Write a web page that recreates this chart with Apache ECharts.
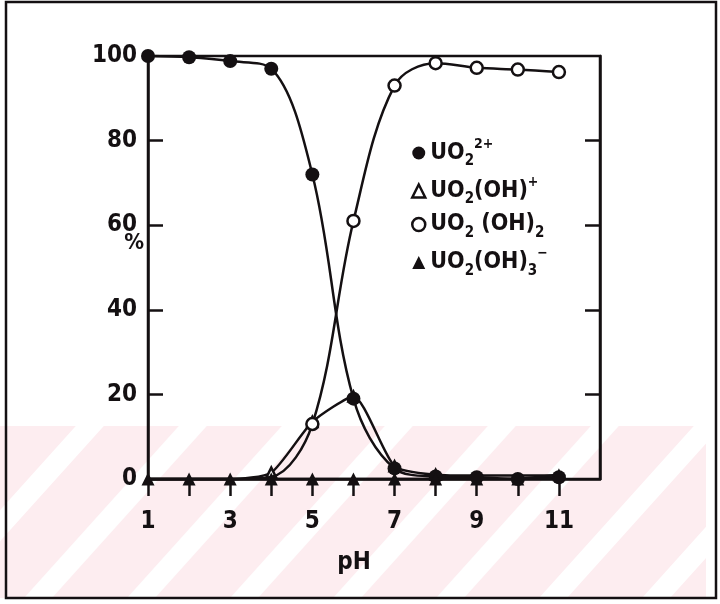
<!DOCTYPE html>
<html>
<head>
<meta charset="utf-8">
<script src="https://cdn.jsdelivr.net/npm/echarts@6/dist/echarts.min.js"></script>
<style>
  html, body { margin: 0; padding: 0; background: #fff; }
  #chart { width: 720px; height: 604px; }
</style>
</head>
<body>
<div id="chart"></div>
<script>
// Uranyl species distribution (%) versus pH
const pH = [1, 2, 3, 4, 5, 6, 7, 8, 9, 10, 11];
const uranyl     = [100, 99.7, 98.8, 97, 72, 19, 2.5, 0.6, 0.4, 0, 0.4];   // UO2 2+
const hydroxo    = [0, 0, 0, 1.5, 13.5, 19.5, 3, 1, 0.8, 0.8, 0.8];      // UO2(OH)+
const dihydroxo  = [0, 0, 0, 0.5, 13, 61, 93, 98.3, 97.2, 96.8, 96.2];   // UO2(OH)2
const trihydroxo = [0, 0, 0, 0, 0, 0, 0, 0, 0, 0, 1];                   // UO2(OH)3 -
const xLabelValues = [1, 3, 5, 7, 9, 11];
const yLabelValues = [0, 20, 40, 60, 80, 100];

const INK = '#141012';
const FONT = "'DejaVu Sans Condensed', 'DejaVu Sans', sans-serif";

const names = ['UO₂²⁺', 'UO₂(OH)⁺', 'UO₂(OH)₂', 'UO₂(OH)₃⁻'];
const legendRich = {
  [names[0]]: '{m|UO}{s|2}{p|2+}',
  [names[1]]: '{m|UO}{s|2}{m|(OH)}{p|+}',
  [names[2]]: '{m|UO}{s|2}{m| (OH)}{s|2}',
  [names[3]]: '{m|UO}{s|2}{m|(OH)}{s|3}{p|−}'
};

// Points lying on the baseline are marked only by the trihydroxo triangles
const pairs = (arr, hideBaseline) => pH.map((x, i) => {
  const item = { value: [x, arr[i]] };
  if (hideBaseline && arr[i] < 1) item.symbol = 'none';
  return item;
});

// Pink diagonal band behind the lower part of the figure
const bandTop = 426, bandBottom = 598;
const shift = 0.9 * (bandBottom - bandTop);
const stripes = [];
for (let k = -2; k <= 6; k++) {
  const x0 = 127 + k * 103;
  stripes.push({
    type: 'polygon', z: -9, silent: true,
    shape: { points: [[x0, bandBottom], [x0 + 28, bandBottom], [x0 + 28 + shift, bandTop], [x0 + shift, bandTop]] },
    style: { fill: '#ffffff' }
  });
}

const chart = echarts.init(document.getElementById('chart'));
chart.setOption({
  backgroundColor: '#ffffff',
  animation: false,
  graphic: [
    { type: 'rect', z: -10, silent: true, shape: { x: 0, y: bandTop, width: 706, height: bandBottom - bandTop }, style: { fill: '#fdedf0' } },
    ...stripes,
    { type: 'rect', z: 5, silent: true, shape: { x: 6, y: 2, width: 710, height: 596 }, style: { fill: 'none', stroke: INK, lineWidth: 2.5 } }
  ],
  grid: { left: 148, right: 120, top: 56, bottom: 125, show: true, borderColor: INK, borderWidth: 2.5, backgroundColor: 'transparent' },
  legend: {
    orient: 'vertical', left: 406, top: 132, itemGap: 6, itemWidth: 13, itemHeight: 13,
    selectedMode: false,
    data: [
      { name: names[0], icon: 'circle', itemStyle: { color: INK, borderWidth: 0 } },
      { name: names[1], icon: 'triangle', itemStyle: { color: '#fff', borderColor: INK, borderWidth: 2.5 } },
      { name: names[2], icon: 'circle', itemStyle: { color: '#fff', borderColor: INK, borderWidth: 2.5 } },
      { name: names[3], icon: 'triangle', itemStyle: { color: INK, borderWidth: 0 } }
    ],
    formatter: n => legendRich[n],
    textStyle: {
      rich: {
        m: { fontFamily: FONT, fontWeight: 'bold', fontSize: 23, color: INK, lineHeight: 32, verticalAlign: 'middle' },
        s: { fontFamily: FONT, fontWeight: 'bold', fontSize: 15, color: INK, lineHeight: 13, verticalAlign: 'bottom' },
        p: { fontFamily: FONT, fontWeight: 'bold', fontSize: 14, color: INK, lineHeight: 14, verticalAlign: 'top' }
      }
    }
  },
  xAxis: {
    type: 'value', min: 1, max: 12, interval: 1,
    name: 'pH', nameLocation: 'middle', nameGap: 72,
    nameTextStyle: { fontFamily: FONT, fontWeight: 'bold', fontSize: 24, color: INK, padding: [0, 40, 0, 0] },
    axisLine: { lineStyle: { color: INK, width: 2.5 } },
    axisTick: { show: true, inside: false, length: 17, customValues: pH, lineStyle: { color: INK, width: 2.5 } },
    axisLabel: { customValues: xLabelValues, margin: 31, fontFamily: FONT, fontWeight: 'bold', fontSize: 24, color: INK },
    splitLine: { show: false }
  },
  yAxis: [
    {
      type: 'value', min: 0, max: 100, interval: 20, position: 'left',
      name: '%', nameLocation: 'middle', nameRotate: 0, nameGap: 4, nameMoveOverlap: false,
      nameTextStyle: { fontFamily: FONT, fontWeight: 'bold', fontSize: 22, color: INK, verticalAlign: 'bottom', lineHeight: 48 },
      axisLine: { show: true, lineStyle: { color: INK, width: 2.5 } },
      axisTick: { show: true, inside: true, length: 15, customValues: [20, 40, 60, 80], lineStyle: { color: INK, width: 2.5 } },
      axisLabel: { customValues: yLabelValues, margin: 11, fontFamily: FONT, fontWeight: 'bold', fontSize: 24, color: INK },
      splitLine: { show: false }
    },
    {
      type: 'value', min: 0, max: 100, interval: 20, position: 'right',
      axisLine: { show: true, lineStyle: { color: INK, width: 2.5 } },
      axisTick: { show: true, inside: true, length: 15, customValues: [20, 40, 60, 80], lineStyle: { color: INK, width: 2.5 } },
      axisLabel: { show: false },
      splitLine: { show: false }
    }
  ],
  series: [
    {
      name: names[1], type: 'line', data: pairs(hydroxo, true), clip: false, z: 3, smooth: 0.2,
      symbol: 'triangle', symbolSize: 10,
      itemStyle: { color: '#fff', borderColor: INK, borderWidth: 2.5 },
      lineStyle: { color: INK, width: 2.5 }
    },
    {
      name: names[2], type: 'line', data: pairs(dihydroxo, true), clip: false, z: 4, smooth: 0.35,
      symbol: 'circle', symbolSize: 12,
      itemStyle: { color: '#fff', borderColor: INK, borderWidth: 2.5 },
      lineStyle: { color: INK, width: 2.5 }
    },
    {
      name: names[0], type: 'line', data: pairs(uranyl, false), clip: false, z: 5, smooth: 0.35,
      symbol: 'circle', symbolSize: 14,
      itemStyle: { color: INK },
      lineStyle: { color: INK, width: 2.5 }
    },
    {
      name: names[3], type: 'line', data: pairs(trihydroxo, false), clip: false, z: 6,
      symbol: 'triangle', symbolSize: 13,
      itemStyle: { color: INK },
      lineStyle: { color: INK, width: 2.5 }
    }
  ]
});
</script>
</body>
</html>
